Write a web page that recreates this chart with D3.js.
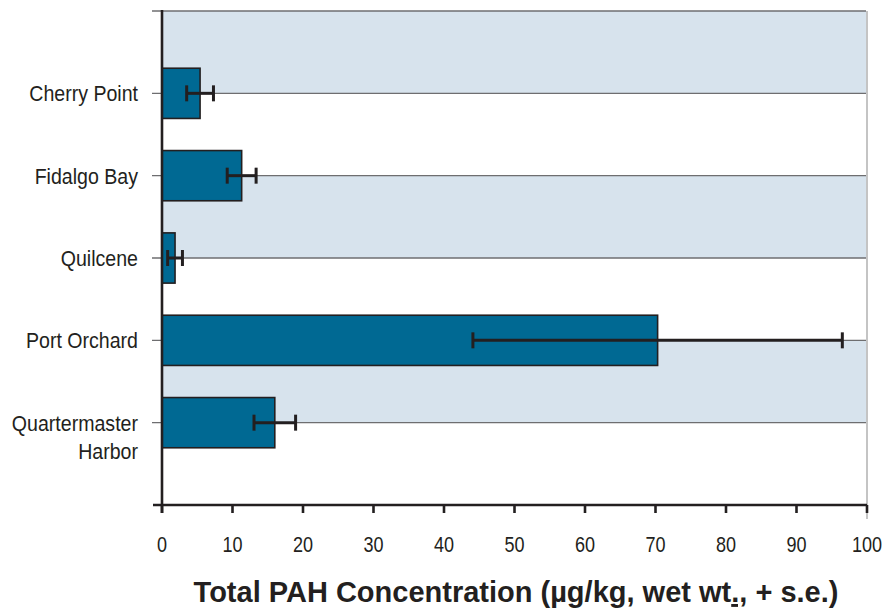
<!DOCTYPE html>
<html>
<head>
<meta charset="utf-8">
<script src="https://cdn.jsdelivr.net/npm/d3@7"></script>
<style>
  html, body { margin: 0; padding: 0; background: #fff; }
  svg { display: block; }
  .lab { font-family: "Liberation Sans Narrow", "Arial Narrow", "Liberation Sans", sans-serif; font-size: 22px; fill: #231f20; }
  .title { font-family: "Liberation Sans", Arial, sans-serif; font-weight: bold; font-size: 29px; fill: #231f20; }
</style>
</head>
<body>
<svg id="chart" width="885" height="609"></svg>
<script>
const categories = ["Cherry Point", "Fidalgo Bay", "Quilcene", "Port Orchard", "Quartermaster Harbor"];
const means = [5.4, 11.3, 1.85, 70.3, 16.0];
const stdErrors = [1.9, 2.05, 1.05, 26.2, 2.95];
const xTicks = [0, 10, 20, 30, 40, 50, 60, 70, 80, 90, 100];
const xTitle = ["Total PAH Concentration (\u00b5g/kg, wet wt", ".,", " + s.e.)"];

const svg = d3.select("#chart");
const x = d3.scaleLinear().domain([0, 100]).range([162, 867]);
// slots: top edge, 5 categories, bottom edge
const slots = d3.range(categories.length + 2);
const y = d3.scalePoint().domain(slots).range([11, 505]);
const step = y.step();
const barH = step * 0.61;
const yBottom = y(slots.length - 1);

// alternating bands
const bandIdx = slots.slice(0, -1).filter(i => i % 2 === 0);
svg.append("g").selectAll("rect").data(bandIdx).join("rect")
  .attr("x", x(0)).attr("width", x(100) - 1 - x(0))
  .attr("y", d => y(d)).attr("height", d => y(d + 1) - y(d))
  .attr("fill", "#d7e3ed");

// gridlines + left ticks
svg.append("g").selectAll("line").data(slots.slice(0, -1)).join("line")
  .attr("x1", x(0) - 10).attr("x2", x(100) - 1)
  .attr("y1", d => y(d)).attr("y2", d => y(d))
  .attr("stroke", "#6e6e70").attr("stroke-width", 1.3);

// right border line
svg.append("line")
  .attr("x1", x(100)).attr("x2", x(100))
  .attr("y1", y(0)).attr("y2", yBottom + 14)
  .attr("stroke", "#b0b0b0").attr("stroke-width", 1.5);

// bars
const data = categories.map((c, i) => ({ c, i, m: means[i], se: stdErrors[i] }));
svg.append("g").selectAll("rect").data(data).join("rect")
  .attr("x", x(0)).attr("width", d => x(d.m) - x(0))
  .attr("y", d => y(d.i + 1) - barH / 2).attr("height", barH)
  .attr("fill", "#006993").attr("stroke", "#231f20").attr("stroke-width", 1.6);

// error bars
const eb = svg.append("g").attr("stroke", "#231f20").attr("stroke-width", 3);
eb.selectAll("line.h").data(data).join("line").attr("class", "h")
  .attr("x1", d => x(d.m - d.se)).attr("x2", d => x(d.m + d.se))
  .attr("y1", d => y(d.i + 1)).attr("y2", d => y(d.i + 1));
eb.selectAll("line.l").data(data).join("line").attr("class", "l")
  .attr("x1", d => x(d.m - d.se)).attr("x2", d => x(d.m - d.se))
  .attr("y1", d => y(d.i + 1) - 8).attr("y2", d => y(d.i + 1) + 8);
eb.selectAll("line.r").data(data).join("line").attr("class", "r")
  .attr("x1", d => x(d.m + d.se)).attr("x2", d => x(d.m + d.se))
  .attr("y1", d => y(d.i + 1) - 8).attr("y2", d => y(d.i + 1) + 8);

// axes lines
svg.append("line")
  .attr("x1", x(0)).attr("x2", x(0))
  .attr("y1", y(0) - 1).attr("y2", yBottom + 8)
  .attr("stroke", "#231f20").attr("stroke-width", 2.6);
svg.append("line")
  .attr("x1", x(0) - 9).attr("x2", x(100))
  .attr("y1", yBottom).attr("y2", yBottom)
  .attr("stroke", "#231f20").attr("stroke-width", 2.6);

// x ticks
svg.append("g").selectAll("line").data(xTicks).join("line")
  .attr("x1", d => x(d)).attr("x2", d => x(d))
  .attr("y1", yBottom).attr("y2", yBottom + 8)
  .attr("stroke", "#231f20").attr("stroke-width", 2.6);
svg.append("g").selectAll("text").data(xTicks).join("text")
  .attr("class", "lab")
  .attr("transform", d => `translate(${x(d)},552) scale(0.82,1)`)
  .attr("text-anchor", "middle")
  .text(d => d);

// category labels
const labs = svg.append("g").selectAll("text").data(data).join("text")
  .attr("class", "lab")
  .attr("transform", d => `translate(138,${y(d.i + 1) + 8}) scale(0.89,1)`)
  .attr("text-anchor", "end");
labs.each(function(d) {
  const t = d3.select(this);
  if (d.c === "Quartermaster Harbor") {
    t.append("tspan").attr("x", 0).text("Quartermaster");
    t.append("tspan").attr("x", 0).attr("dy", 28).text("Harbor");
  } else {
    t.text(d.c);
  }
});

// title
const tt = svg.append("text").attr("class", "title")
  .attr("x", 516).attr("y", 602).attr("text-anchor", "middle");
tt.append("tspan").text(xTitle[0]);
tt.append("tspan").attr("text-decoration", "underline").style("text-decoration", "underline").text(xTitle[1]);
tt.append("tspan").text(xTitle[2]);
</script>
</body>
</html>
